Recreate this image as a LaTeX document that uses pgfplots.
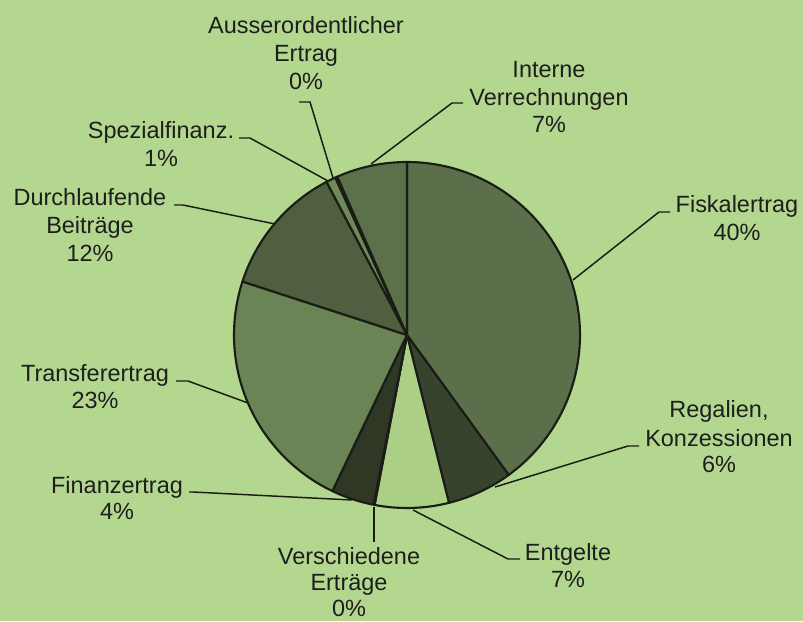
\documentclass[border=0pt]{standalone}
\usepackage{pgfplots}
\pgfplotsset{compat=1.18}
\usepackage{fontspec}
\setmainfont{Liberation Sans}
\definecolor{bg}{RGB}{179,215,143}
\definecolor{edge}{RGB}{26,28,22}
\definecolor{txt}{RGB}{30,30,30}
\definecolor{cFiskal}{RGB}{91,111,75}
\definecolor{cRegal}{RGB}{55,67,44}
\definecolor{cEntg}{RGB}{170,207,133}
\definecolor{cVersch}{RGB}{150,180,120}
\definecolor{cFinanz}{RGB}{47,56,37}
\definecolor{cTransfer}{RGB}{106,132,86}
\definecolor{cDurchl}{RGB}{79,95,64}
\definecolor{cSpez}{RGB}{110,138,90}
\definecolor{cAusser}{RGB}{140,170,110}
\definecolor{cIntern}{RGB}{92,112,74}
\def\cum{0}
\newcommand\slice[2]{%
  \pgfmathsetmacro\sa{\cum*3.6}%
  \pgfmathsetmacro\sb{(\cum+#1)*3.6}%
  \edef\doslice{\noexpand\addplot[draw=edge, line width=1.6pt, fill=#2, line join=round, domain=\sa:\sb, samples=90] ({407+173*sin(x)},{335-173*cos(x)}) -- (axis cs:407,335) -- cycle;}%
  \doslice
  \pgfmathsetmacro\cumnew{\cum+#1}%
  \global\let\cum\cumnew
}
\newcommand\lab[3]{\node[anchor=base, text=txt, font=\fontsize{17.6}{21}\selectfont, inner sep=0pt] at (axis cs:#1,#2) {#3};}
\begin{document}
\begin{tikzpicture}
\begin{axis}[
  scale only axis, width=602.25pt, height=465.75pt,
  xmin=0, xmax=803, ymin=0, ymax=621, y dir=reverse,
  axis line style={draw=none}, ticks=none,
  axis background/.style={fill=bg},
  clip=false,
]
% slices (percent shares, clockwise from top)
\slice{40.0}{cFiskal}
\slice{6.1}{cRegal}
\slice{6.9}{cEntg}
\slice{0.1}{cVersch}
\slice{4.0}{cFinanz}
\slice{22.9}{cTransfer}
\slice{12.3}{cDurchl}
\slice{0.9}{cSpez}
\slice{0.2}{cAusser}
\slice{6.6}{cIntern}
% leader lines
\addplot[edge, line width=1.1pt] coordinates {(299,102) (310,102) (333,178)};
\addplot[edge, line width=1.1pt] coordinates {(239,138) (250,138) (328,181)};
\addplot[edge, line width=1.1pt] coordinates {(463,103) (452,103) (371,164)};
\addplot[edge, line width=1.1pt] coordinates {(670,212) (659,212) (573,280)};
\addplot[edge, line width=1.1pt] coordinates {(174,205) (183,205) (275,224)};
\addplot[edge, line width=1.1pt] coordinates {(176,381) (188,381) (248,403)};
\addplot[edge, line width=1.1pt] coordinates {(189,492) (193,492) (352,500)};
\addplot[edge, line width=1.1pt] coordinates {(374,507) (374,542)};
\addplot[edge, line width=1.1pt] coordinates {(413,510) (508,559) (520,559)};
\addplot[edge, line width=1.1pt] coordinates {(495,487) (628,446) (639,446)};
% labels
\lab{306}{33}{Ausserordentlicher}
\lab{306}{61}{Ertrag}
\lab{306}{89}{0\%}
\lab{549}{77}{Interne}
\lab{549}{105}{Verrechnungen}
\lab{549}{132}{7\%}
\lab{737}{212}{Fiskalertrag}
\lab{737}{240}{40\%}
\lab{161}{138}{Spezialfinanz.}
\lab{161}{166}{1\%}
\lab{90}{205}{Durchlaufende}
\lab{90}{233}{Beiträge}
\lab{90}{261}{12\%}
\lab{95}{381}{Transferertrag}
\lab{95}{408}{23\%}
\lab{117}{493}{Finanzertrag}
\lab{117}{519}{4\%}
\lab{349}{564}{Verschiedene}
\lab{349}{590}{Erträge}
\lab{349}{616}{0\%}
\lab{568}{560}{Entgelte}
\lab{568}{587}{7\%}
\lab{719}{417}{Regalien,}
\lab{719}{446}{Konzessionen}
\lab{719}{472}{6\%}
\end{axis}
\pgfresetboundingbox
\path[use as bounding box] (current axis.south west) rectangle (current axis.north east);
\end{tikzpicture}
\end{document}
